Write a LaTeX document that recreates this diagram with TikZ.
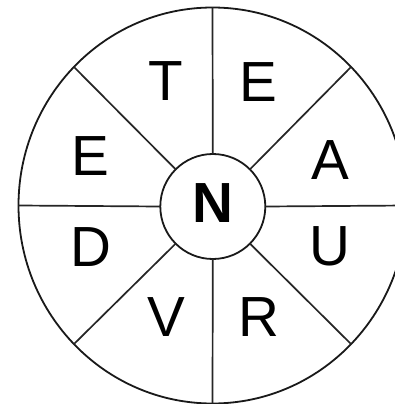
\documentclass[tikz,border=0pt]{standalone}
\usepackage{fontspec}
\setmainfont{Liberation Sans}
\usetikzlibrary{shapes.geometric}
\begin{document}
\begin{tikzpicture}[x=1pt,y=-1pt,
  rim/.style={draw=black!90,line width=1.8pt},
  letter/.style={inner sep=0pt,font=\fontsize{56.6}{60}\selectfont},
  spoke/.style={draw=black!85,line width=1.7pt}]
\useasboundingbox[fill=white] (0,0) rectangle (394,404);
\node[rim,ellipse,minimum width=388pt,minimum height=396pt,inner sep=0pt,outer sep=0pt] (outer) at (212.5,205.5) {};
\node[rim,circle,minimum size=105pt,inner sep=0pt,outer sep=0pt] (hub) at (212.8,206.5) {};
\node[inner sep=0pt,font=\fontsize{56.6}{60}\selectfont\bfseries] (n) at (213,203.5) {N};
\foreach \a in {0,45,...,315}{
  \draw[spoke] (hub.\a) -- (outer.\a);
}
\node[letter] (t)  at (166,81)    {T};
\node[letter] (e1) at (258,81.7)  {E};
\node[letter] (e2) at (90.5,156)  {E};
\node[letter] (a)  at (330,160)   {A};
\node[letter] (d)  at (90.5,247)  {D};
\node[letter] (u)  at (330,246)   {U};
\node[letter] (v)  at (166.5,316.7) {V};
\node[letter] (r)  at (259,317)   {R};
\end{tikzpicture}
\end{document}
